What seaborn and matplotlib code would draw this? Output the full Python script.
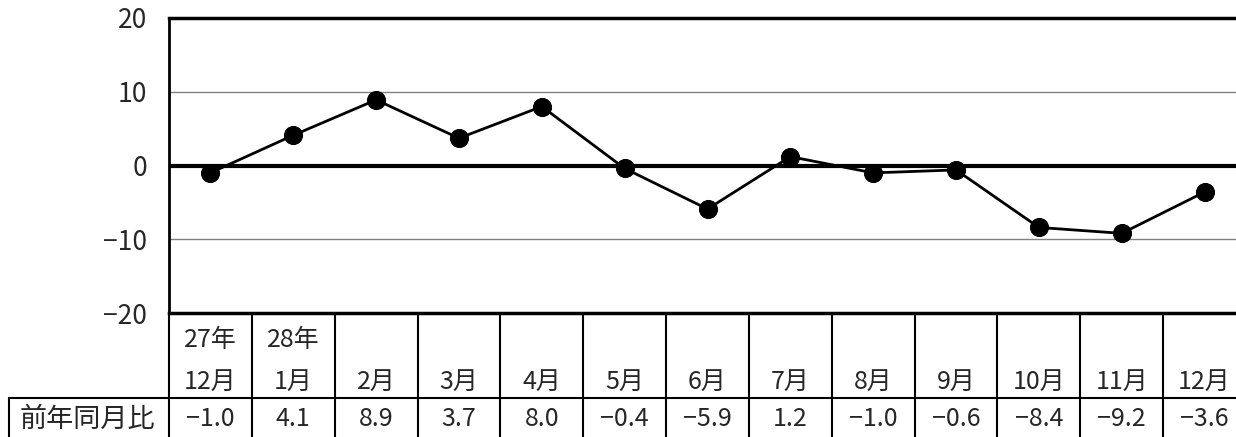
import numpy as np
import pandas as pd
import seaborn as sns
import matplotlib.pyplot as plt
from matplotlib.transforms import blended_transform_factory

year_labels = ["27年", "28年", "", "", "", "", "", "", "", "", "", "", ""]
month_labels = ["12月", "1月", "2月", "3月", "4月", "5月", "6月",
                "7月", "8月", "9月", "10月", "11月", "12月"]
yoy = [-1.0, 4.1, 8.9, 3.7, 8.0, -0.4, -5.9, 1.2, -1.0, -0.6, -8.4, -9.2, -3.6]
row_label = "前年同月比"

sns.set_style("white")
plt.rcParams['font.family'] = ['Noto Sans CJK JP', 'DejaVu Sans']
plt.rcParams['axes.unicode_minus'] = True

W, H = 1236, 437
fig = plt.figure(figsize=(W / 100, H / 100), dpi=100)

# plot area in pixels: left 169, top 18, bottom 313, right 1246 (runs off the edge)
ax = fig.add_axes([169 / W, (H - 313) / H, (1246 - 169) / W, (313 - 18) / H])

df = pd.DataFrame({"x": np.arange(len(yoy)), "y": yoy})
sns.lineplot(data=df, x="x", y="y", ax=ax, color="black", lw=2,
             marker="o", markersize=13, markeredgecolor="black", zorder=5)

ax.set_xlim(-0.5, len(yoy) - 0.5)
ax.set_ylim(-20, 20)
ax.set_yticks([-20, -10, 0, 10, 20])
ax.set_yticklabels(["−20", "−10", "0", "10", "20"], fontsize=19)
ax.tick_params(axis="y", length=0, pad=16)
ax.set_xticks([])
ax.set_xlabel("")
ax.set_ylabel("")

for v in [-10, 10]:
    ax.axhline(v, color="#808080", lw=1, zorder=1)
ax.axhline(0, color="black", lw=3, zorder=2)

for s in ["left", "top", "bottom"]:
    ax.spines[s].set_color("black")
ax.spines["left"].set_linewidth(2)
ax.spines["top"].set_linewidth(2.5)
ax.spines["bottom"].set_linewidth(2.5)
ax.spines["right"].set_visible(False)

# table under the chart
tr = blended_transform_factory(ax.transData, fig.transFigure)
def fy(py):
    return (H - py) / H

n = len(yoy)
for k in range(n + 1):
    ax.plot([k - 0.5, k - 0.5], [fy(313), fy(440)], transform=tr, color="black",
            lw=1.5, clip_on=False)
ax.plot([-0.5, n - 0.5], [fy(398), fy(398)], transform=tr, color="black",
        lw=1.5, clip_on=False)
fig.add_artist(plt.Line2D([9 / W, 169 / W], [fy(398), fy(398)], color="black", lw=1.5))
fig.add_artist(plt.Line2D([9 / W, 9 / W], [fy(398), fy(440)], color="black", lw=1.5))

for i in range(n):
    if year_labels[i]:
        ax.text(i, fy(340), year_labels[i], transform=tr, ha="center", va="center",
                fontsize=18)
    ax.text(i, fy(382), month_labels[i], transform=tr, ha="center", va="center",
            fontsize=18)
    ax.text(i, fy(419), f"{yoy[i]:.1f}".replace("-", "−"), transform=tr,
            ha="center", va="center", fontsize=18)

fig.text(87 / W, fy(419), row_label, ha="center", va="center", fontsize=19.5)

fig.savefig("out.png", dpi=100)
